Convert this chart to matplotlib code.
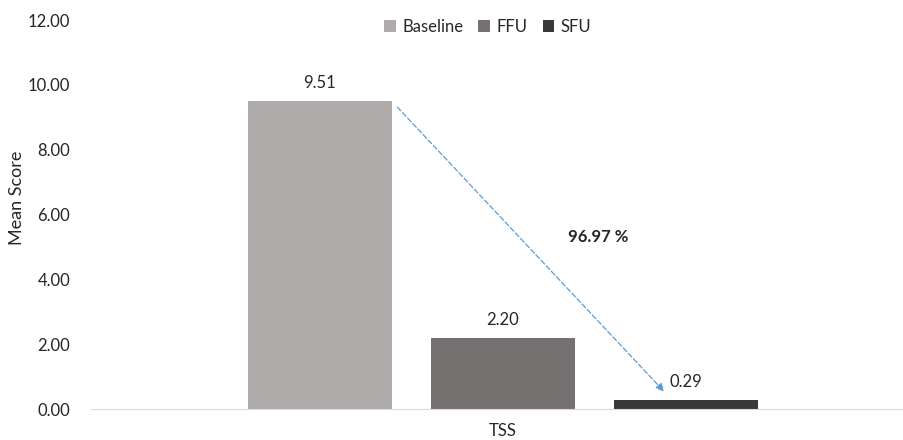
import matplotlib
matplotlib.use("Agg")
import matplotlib.pyplot as plt

plt.rcParams['font.family'] = ['Lato', 'DejaVu Sans']

category = "TSS"
series = ["Baseline", "FFU", "SFU"]
values = [9.51, 2.20, 0.29]
colors = ["#AFABAB", "#767171", "#3B3838"]
reduction_label = "96.97 %"
yticks = [0, 2, 4, 6, 8, 10, 12]

fig = plt.figure(figsize=(9.04, 4.40), dpi=100)
ax = fig.add_axes([91 / 904, 31 / 440, 813 / 904, 389 / 440])

fs = 12
width = 0.787
offsets = [-1, 0, 1]
for off, name, val, col in zip(offsets, series, values, colors):
    ax.bar(off, val, width=width, color=col, label=name, zorder=2)
    ax.text(off, val + 0.3, f"{val:.2f}", ha="center", va="bottom",
            fontsize=fs, color="#262626")

# dashed arrow from the baseline bar down to the last follow-up
ax.annotate("", xy=(offsets[2] - 0.12, values[2] + 0.25),
            xytext=(offsets[0] + width / 2 + 0.03, values[0] - 0.2),
            arrowprops=dict(arrowstyle="-|>", color="#5B9BD5", lw=0.9,
                            linestyle=(0, (4, 2)), mutation_scale=12,
                            shrinkA=0, shrinkB=0))
ax.text(0.52, 5.3, reduction_label, ha="center", va="center",
        fontsize=fs, fontweight="bold", color="#262626")

ax.set_xlim(-2.25, 2.19)
ax.set_ylim(0, 12)
ax.set_yticks(yticks)
ax.set_yticklabels([f"{t:.2f}" for t in yticks], fontsize=fs, color="#262626")
ax.set_xticks([0])
ax.set_xticklabels([category], fontsize=fs, color="#262626")
ax.tick_params(axis="both", length=0)
ax.tick_params(axis="y", pad=15)
ax.tick_params(axis="x", pad=10)
for s in ["top", "right", "left"]:
    ax.spines[s].set_visible(False)
ax.spines["bottom"].set_color("#D9D9D9")
ax.set_ylabel("Mean Score", fontsize=13, color="#262626")
ax.yaxis.set_label_coords(-0.091, 0.542)
ax.yaxis.label.set_va("center")

leg = ax.legend(loc="center", bbox_to_anchor=(0.488, 0.982), ncol=3,
                frameon=False, fontsize=fs, handlelength=0.7, handleheight=0.7,
                handletextpad=0.4, columnspacing=0.9)
for t in leg.get_texts():
    t.set_color("#262626")

fig.savefig("out.png", dpi=100)
